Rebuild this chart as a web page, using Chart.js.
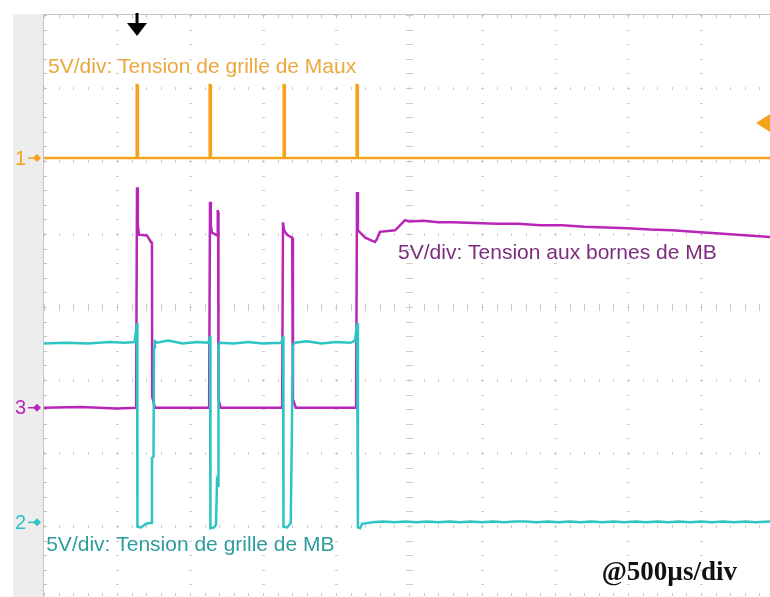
<!DOCTYPE html>
<html>
<head>
<meta charset="utf-8">
<title>Oscillogramme</title>
<script src="https://cdn.jsdelivr.net/npm/chart.js@4.4.1/dist/chart.umd.min.js"></script>
<style>
  html, body { margin: 0; padding: 0; background: #fff; overflow: hidden; }
  #wrap { width: 770px; height: 597px; }
</style>
</head>
<body>
<div id="wrap"><canvas id="scope" width="770" height="597"></canvas></div>
<script>
// x en divisions (500 µs/div), y en divisions (5 V/div), 0 = centre de l'écran

// voie 1 : tension de grille de Maux (orange)
const ch1Time = [0, 1.262, 1.270, 1.278, 1.286, 2.262, 2.270, 2.278, 2.286, 3.275, 3.283, 3.291, 3.299, 4.275, 4.283, 4.291, 4.299, 9.95];
const ch1Volt = [2.04, 2.04, 3.04, 3.04, 2.04, 2.04, 3.04, 3.04, 2.04, 2.04, 3.04, 3.04, 2.04, 2.04, 3.04, 3.04, 2.04, 2.04];

// voie 3 : tension aux bornes de MB (magenta)
const ch3Time = [0, 0.5, 1.0, 1.262,
  1.274, 1.285, 1.30, 1.41, 1.465, 1.479, 1.482, 1.52,
  2.0, 2.262, 2.274, 2.285, 2.30, 2.37, 2.38, 2.386, 2.39, 2.42,
  3.0, 3.262, 3.274, 3.29, 3.33, 3.40, 3.41, 3.45,
  4.0, 4.275, 4.288, 4.30, 4.40, 4.534, 4.56, 4.60, 4.81, 4.86, 4.945,
  5.0, 5.2, 5.4, 5.6, 5.9, 6.2, 6.5, 6.8, 7.1, 7.4, 7.7, 8.0, 8.3, 8.6, 8.9, 9.2, 9.5, 9.8, 9.95];
const ch3Volt = [-1.38, -1.37, -1.39, -1.38,
  1.64, 1.12, 0.99, 0.98, 0.89, 0.88, -1.23, -1.38,
  -1.38, -1.38, 1.44, 1.12, 1.02, 0.98, 1.33, 1.30, -1.27, -1.38,
  -1.38, -1.38, 1.16, 1.05, 0.99, 0.95, -1.27, -1.38,
  -1.38, -1.38, 1.575, 1.05, 0.95, 0.89, 0.93, 1.03, 1.05, 1.10, 1.19,
  1.17, 1.18, 1.16, 1.16, 1.15, 1.14, 1.14, 1.12, 1.12, 1.10, 1.09, 1.08, 1.06, 1.05, 1.03, 1.01, 0.99, 0.97, 0.96];

// voie 2 : tension de grille de MB (cyan)
const ch2Time = [0, 0.3, 0.6, 0.9, 1.1, 1.24, 1.265,
  1.274, 1.28, 1.33, 1.40, 1.45, 1.47, 1.479, 1.50, 1.507, 1.52, 1.548,
  1.7, 1.9, 2.1, 2.247, 2.265,
  2.274, 2.28, 2.33, 2.356, 2.37, 2.384, 2.39, 2.41,
  2.6, 2.8, 3.0, 3.247, 3.265,
  3.274, 3.28, 3.33, 3.38, 3.41, 3.438,
  3.6, 3.8, 4.0, 4.2, 4.26, 4.28,
  4.288, 4.30, 4.33, 4.36, 4.5, 4.65, 4.8, 4.95, 5.1, 5.25, 5.4, 5.55, 5.7, 5.85, 6.0, 6.15, 6.3, 6.45, 6.6, 6.75, 6.9,
  7.05, 7.2, 7.35, 7.5, 7.65, 7.8, 7.95, 8.1, 8.25, 8.4, 8.55, 8.7, 8.85, 9.0, 9.15, 9.3, 9.45, 9.6, 9.75, 9.95];
const ch2Volt = [-0.50, -0.49, -0.50, -0.48, -0.49, -0.48, -0.30,
  -0.22, -3.01, -3.02, -2.97, -2.96, -2.96, -2.07, -2.05, -0.55, -0.47, -0.49,
  -0.46, -0.50, -0.48, -0.49, -0.45,
  -0.40, -3.03, -3.02, -2.98, -2.40, -2.45, -0.52, -0.49,
  -0.50, -0.48, -0.50, -0.49, -0.45,
  -0.40, -3.01, -3.02, -2.96, -0.52, -0.49,
  -0.47, -0.50, -0.48, -0.49, -0.46, -0.30,
  -0.22, -3.02, -3.03, -2.97, -2.95, -2.94, -2.95, -2.94, -2.95, -2.94, -2.95, -2.94, -2.95, -2.94, -2.95, -2.94, -2.95, -2.94, -2.94, -2.95, -2.94,
  -2.95, -2.94, -2.95, -2.94, -2.95, -2.94, -2.95, -2.94, -2.95, -2.94, -2.95, -2.94, -2.95, -2.94, -2.95, -2.94, -2.95, -2.94, -2.95, -2.94];

// repères de masse des voies (1, 3, 2) et déclenchement
const chanNames = ['1', '3', '2'];
const chanLevels = [2.04, -1.38, -2.95];
const trigTime = 1.274;
const trigLevel = 2.52;

const orange = '#f5a21c';
const magenta = '#b826b8';
const cyan = '#2ec4c4';

const toPoints = (t, v) => t.map((x, i) => ({ x: x, y: v[i] }));

const scopeDecor = {
    id: 'scopeDecor',
    beforeDatasetsDraw(chart) {
        const ctx = chart.ctx;
        const xs = chart.scales.x;
        const ys = chart.scales.y;
        const top = chart.chartArea.top;
        const left = chart.chartArea.left;
        const right = chart.chartArea.right;
        const bottom = chart.chartArea.bottom;
        ctx.save();
        // bande grise à gauche
        ctx.fillStyle = '#ededed';
        ctx.fillRect(13, top - 1, left - 14, bottom - top + 1);
        // cadre haut et gauche
        ctx.fillStyle = '#c4c4c4';
        ctx.fillRect(left - 1, top - 1, right - left + 1, 1);
        ctx.fillRect(left - 1, top - 1, 1, bottom - top + 1);
        for (let v = 0; v <= 10; v += 0.2) {
            const px = Math.round(xs.getPixelForValue(v));
            ctx.fillRect(px, top, 1, 3);
            ctx.fillRect(px, bottom - 4, 1, 3);
        }
        for (let v = 4; v >= -4; v -= 0.2) {
            const py = Math.round(ys.getPixelForValue(v));
            ctx.fillRect(left, py, 3, 1);
        }
        // graticule pointillée
        ctx.fillStyle = '#cccccc';
        for (let i = 1; i <= 9; i++) {
            const px = Math.round(xs.getPixelForValue(i));
            const w = i === 5 ? 7 : 3;
            for (let v = 4; v >= -4; v -= 0.2) {
                const py = Math.round(ys.getPixelForValue(v));
                ctx.fillRect(px - Math.floor(w / 2), py, w, 1);
            }
        }
        for (let j = -3; j <= 3; j++) {
            const py = Math.round(ys.getPixelForValue(j));
            const h = j === 0 ? 7 : 3;
            for (let v = 0; v <= 10; v += 0.2) {
                const px = Math.round(xs.getPixelForValue(v));
                ctx.fillRect(px, py - Math.floor(h / 2), 1, h);
            }
        }
        ctx.restore();
    },
    afterDatasetsDraw(chart) {
        const ctx = chart.ctx;
        const xs = chart.scales.x;
        const ys = chart.scales.y;
        const colors = [orange, magenta, cyan];
        ctx.save();
        // numéros des voies
        ctx.font = '20px "Liberation Sans", Arial, sans-serif';
        ctx.textBaseline = 'middle';
        ctx.textAlign = 'left';
        chanNames.forEach((name, i) => {
            const py = ys.getPixelForValue(chanLevels[i]);
            ctx.fillStyle = colors[i];
            ctx.fillText(name, 15, py + 1);
            ctx.fillRect(28, py - 0.75, 12, 1.5);
            ctx.beginPath();
            ctx.moveTo(33, py);
            ctx.lineTo(37, py - 4);
            ctx.lineTo(41, py);
            ctx.lineTo(37, py + 4);
            ctx.closePath();
            ctx.fill();
        });
        // flèche de déclenchement
        const tx = xs.getPixelForValue(trigTime);
        ctx.fillStyle = '#000';
        ctx.fillRect(tx - 1.5, 13, 3, 12);
        ctx.beginPath();
        ctx.moveTo(tx - 10, 23);
        ctx.lineTo(tx + 10, 23);
        ctx.lineTo(tx, 36);
        ctx.closePath();
        ctx.fill();
        // niveau de déclenchement
        const ty = ys.getPixelForValue(trigLevel);
        ctx.fillStyle = orange;
        ctx.beginPath();
        ctx.moveTo(756, ty);
        ctx.lineTo(770, ty - 9);
        ctx.lineTo(770, ty + 9);
        ctx.closePath();
        ctx.fill();
        // légendes
        ctx.font = '21px "Liberation Sans", Arial, sans-serif';
        ctx.fillStyle = '#eaa83c';
        ctx.fillText('5V/div: Tension de grille de Maux', xs.getPixelForValue(0.055), ys.getPixelForValue(3.29));
        ctx.fillStyle = '#7d2c7d';
        ctx.fillText('5V/div: Tension aux bornes de MB', xs.getPixelForValue(4.85), ys.getPixelForValue(0.74));
        ctx.fillStyle = '#2e9c9c';
        ctx.fillText('5V/div: Tension de grille de MB', xs.getPixelForValue(0.03), ys.getPixelForValue(-3.26));
        ctx.font = 'bold 27px "Liberation Serif", "Times New Roman", serif';
        ctx.fillStyle = '#111';
        ctx.fillText('@500µs/div', xs.getPixelForValue(7.64), ys.getPixelForValue(-3.64));
        ctx.restore();
    }
};

const ctx = document.getElementById('scope').getContext('2d');
const chart = new Chart(ctx, {
    type: 'scatter',
    data: {
        datasets: [
            { label: 'Voie 2', data: toPoints(ch2Time, ch2Volt), borderColor: cyan, borderWidth: 2.5 },
            { label: 'Voie 3', data: toPoints(ch3Time, ch3Volt), borderColor: magenta, borderWidth: 2.5 },
            { label: 'Voie 1', data: toPoints(ch1Time, ch1Volt), borderColor: orange, borderWidth: 2.5 }
        ].map(d => Object.assign(d, { showLine: true, pointRadius: 0, tension: 0, fill: false }))
    },
    options: {
        responsive: false,
        animation: false,
        layout: { padding: { left: 44, top: 15, right: 0, bottom: 0 } },
        plugins: {
            legend: { display: false },
            tooltip: { enabled: false }
        },
        scales: {
            x: { type: 'linear', display: false, min: 0, max: 9.945 },
            y: { type: 'linear', display: false, min: -3.973, max: 4 }
        }
    },
    plugins: [scopeDecor]
});
</script>
</body>
</html>
